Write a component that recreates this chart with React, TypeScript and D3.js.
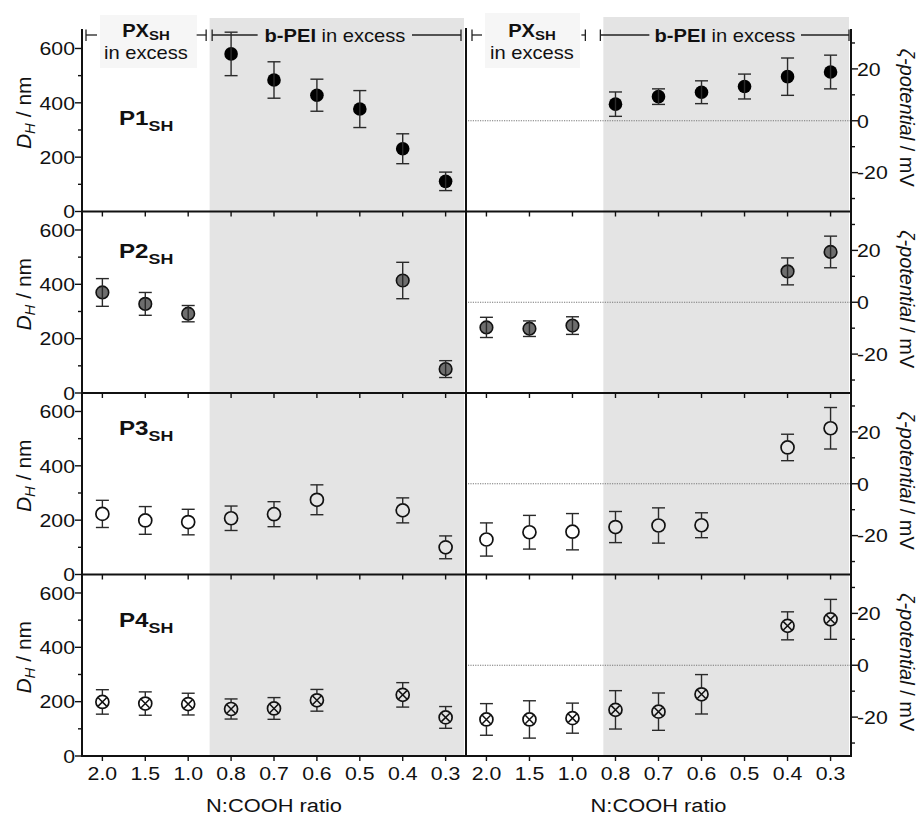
import React from "react";
import * as d3 from "d3";

// N:COOH ratios (categorical x axis, same for both panels)
const ratios = ["2.0", "1.5", "1.0", "0.8", "0.7", "0.6", "0.5", "0.4", "0.3"];

// hydrodynamic diameter D_H / nm  (null = no measurement)
const p1Size = [null, null, null, 580, 484, 428, 377, 231, 111];
const p1SizeErr = [null, null, null, 80, 67, 59, 68, 55, 34];
const p2Size = [370, 328, 292, null, null, null, null, 414, 88];
const p2SizeErr = [51, 42, 30, null, null, null, null, 67, 31];
const p3Size = [223, 199, 193, 207, 222, 275, null, 236, 100];
const p3SizeErr = [50, 51, 47, 45, 46, 55, null, 46, 42];
const p4Size = [199, 193, 191, 173, 175, 205, null, 225, 142];
const p4SizeErr = [45, 43, 40, 37, 40, 40, null, 45, 40];

// zeta potential / mV
const p1Zeta = [null, null, null, 6.4, 9.3, 11, 13.2, 17, 18.8];
const p1ZetaErr = [null, null, null, 4.7, 3, 4.4, 4.8, 7.2, 6.5];
const p2Zeta = [-9.7, -10.2, -9, null, null, null, null, 11.9, 19.4];
const p2ZetaErr = [3.9, 3, 3.4, null, null, null, null, 5.2, 6.1];
const p3Zeta = [-21.5, -18.7, -18.5, -16.7, -16.1, -16, null, 14, 21.4];
const p3ZetaErr = [6.4, 6.5, 7, 6, 6.8, 4.8, null, 5.1, 8];
const p4Zeta = [-20.9, -20.9, -20.4, -17.2, -17.9, -11.2, null, 15.2, 17.7];
const p4ZetaErr = [6.1, 7.2, 5.8, 7.4, 7.2, 7.6, null, 5.4, 7.7];

const sizeTicks = [0, 200, 400, 600];
const sizeMinor = [100, 300, 500];
const zetaTicks = [-20, 0, 20];
const zetaMinor = [-30, -10, 10, 30];

const series = [
  { name: "P1", kind: "filled", size: p1Size, sizeErr: p1SizeErr, zeta: p1Zeta, zetaErr: p1ZetaErr },
  { name: "P2", kind: "gray", size: p2Size, sizeErr: p2SizeErr, zeta: p2Zeta, zetaErr: p2ZetaErr },
  { name: "P3", kind: "open", size: p3Size, sizeErr: p3SizeErr, zeta: p3Zeta, zetaErr: p3ZetaErr },
  { name: "P4", kind: "cross", size: p4Size, sizeErr: p4SizeErr, zeta: p4Zeta, zetaErr: p4ZetaErr },
];

// layout
const W = 921, H = 816;
const PL = 82, PM = 466, PR = 851;
const TOP = 30, ROWH = 181.5;
const BOTTOM = TOP + 4 * ROWH;
const FONT = "'Liberation Sans', Arial, Helvetica, sans-serif";
const SX = 1.15; // source figure text is slightly wide
const labelDy = [95, 46, 42, 52];
const R = 6.8;
const INK = "#111";

function Txt({ x, y, anchor = "start", size = 18, weight = "normal", children }: any) {
  return (
    <g transform={`translate(${x},${y}) scale(${SX},1)`}>
      <text textAnchor={anchor} fontSize={size} fontWeight={weight} fontFamily={FONT}
        fill={INK} style={{ whiteSpace: "pre" }}>{children}</text>
    </g>
  );
}

function Point({ kind, cx, cy, yTop, yBot }: any) {
  const split = kind === "open" || kind === "cross";
  const segs = split ? [[yTop, cy - R], [cy + R, yBot]] : [[yTop, yBot]];
  const d = R * 0.62;
  return (
    <g>
      {kind === "filled" && <circle cx={cx} cy={cy} r={R} fill="#000" />}
      {kind === "gray" && <circle cx={cx} cy={cy} r={R - 0.5} fill="#6e6e6e" stroke="#111" strokeWidth={1.6} />}
      {split && <circle cx={cx} cy={cy} r={R - 0.3} fill="none" stroke="#111" strokeWidth={1.7} />}
      {kind === "cross" && (
        <path d={`M${cx - d},${cy - d}L${cx + d},${cy + d}M${cx - d},${cy + d}L${cx + d},${cy - d}`}
          stroke="#111" strokeWidth={1.5} />
      )}
      <g stroke="#2a2a2a" strokeWidth={1.4}>
        {segs.map(([a, b], i) => <line key={i} x1={cx} x2={cx} y1={a} y2={b} />)}
        <line x1={cx - 6.5} x2={cx + 6.5} y1={yTop} y2={yTop} />
        <line x1={cx - 6.5} x2={cx + 6.5} y1={yBot} y2={yBot} />
      </g>
    </g>
  );
}

function Bracket({ segs }: any) {
  // segs: [x1, x2, barAt]
  return (
    <g stroke="#222" strokeWidth={1.3}>
      {segs.map(([a, b, bar]: number[], i: number) => (
        <g key={i}>
          <line x1={a} x2={b} y1={35} y2={35} />
          <line x1={bar} x2={bar} y1={29.5} y2={41} />
        </g>
      ))}
    </g>
  );
}

export default function App() {
  const xL = d3.scalePoint<string>().domain(ratios).range([PL, PM]).padding(0.475);
  const xR = d3.scalePoint<string>().domain(ratios).range([PM, PR]).padding(0.475);
  const step = xL.step();
  const shadeL = (xL("1.0") as number) + step * 0.5;
  const shadeR = (xR("1.0") as number) + step * 0.72;

  const rows = series.map((s, i) => {
    const top = TOP + i * ROWH;
    const bot = top + ROWH;
    const yS = d3.scaleLinear().domain([0, 668]).range([bot, top]);
    const yZ = d3.scaleLinear().domain([-35, 35]).range([bot, top]);
    return { s, i, top, bot, yS, yZ };
  });

  return (
    <svg width={W} height={H} style={{ position: "absolute", left: 0, top: 0, background: "#fff" }}>
      {/* shaded b-PEI excess regions */}
      <rect x={shadeL} y={18} width={PM - 2 - shadeL} height={BOTTOM - 18} fill="#e4e4e4" />
      <rect x={shadeR} y={17} width={PR - 2 - shadeR} height={BOTTOM - 17} fill="#e4e4e4" />
      <rect x={100} y={15} width={97} height={53} fill="#f6f6f6" />
      <rect x={485} y={13} width={95} height={55} fill="#f6f6f6" />

      {/* header brackets */}
      <Bracket segs={[
        [PL + 4, PL + 15, PL + 4],
        [shadeL - 13, shadeL - 3.5, shadeL - 3.5],
        [shadeL + 2.5, shadeL + 48, shadeL + 2.5],
        [PM - 54, PM - 5, PM - 5],
      ]} />
      <Bracket segs={[
        [PM + 6, PM + 16, PM + 6],
        [shadeR - 22, shadeR - 18, shadeR - 18],
        [shadeR - 3, shadeR + 46, shadeR - 3],
        [PR - 50, PR - 2, PR - 2],
      ]} />
      {[146, 532].map((cx) => (
        <g key={cx}>
          <Txt x={cx} y={37} anchor="middle" size={17.5} weight="bold">
            PX<tspan fontSize={13} dy={2.5}>SH</tspan>
          </Txt>
          <Txt x={cx} y={59} anchor="middle" size={17.5}>in excess</Txt>
        </g>
      ))}
      {[335, 725].map((cx) => (
        <Txt key={cx} x={cx} y={42} anchor="middle" size={17.5}>
          <tspan fontWeight="bold">b-PEI</tspan> in excess
        </Txt>
      ))}

      {rows.map(({ s, i, top, bot, yS, yZ }) => (
        <g key={s.name}>
          {/* zero line */}
          <line x1={PM + 2} x2={PR - 1} y1={yZ(0)} y2={yZ(0)} stroke="#777" strokeWidth={1}
            strokeDasharray="1.2,1.2" />

          {/* row bottom axis with ticks */}
          <line x1={PL} x2={PR} y1={bot} y2={bot} stroke={INK} strokeWidth={2} />
          {ratios.map((r) => (
            <g key={r} stroke={INK} strokeWidth={1.4}>
              <line x1={xL(r)} x2={xL(r)} y1={bot} y2={bot + 5} />
              <line x1={xR(r)} x2={xR(r)} y1={bot} y2={bot + 5} />
            </g>
          ))}

          {/* left size axis */}
          {sizeTicks.map((t) => (
            <g key={t}>
              <line x1={PL - 7} x2={PL} y1={yS(t)} y2={yS(t)} stroke={INK} strokeWidth={1.4} />
              <Txt x={PL - 7} y={yS(t) + 6.8} anchor="end" size={18.5}>{t}</Txt>
            </g>
          ))}
          {sizeMinor.map((t) => (
            <line key={t} x1={PL - 4} x2={PL} y1={yS(t)} y2={yS(t)} stroke={INK} strokeWidth={1.4} />
          ))}

          {/* right zeta axis */}
          {zetaTicks.map((t) => (
            <g key={t}>
              <line x1={PR} x2={PR + 7} y1={yZ(t)} y2={yZ(t)} stroke={INK} strokeWidth={1.4} />
              <Txt x={PR + 6} y={yZ(t) + 6.8} size={18.5}>{t}</Txt>
            </g>
          ))}
          {zetaMinor.map((t) => (
            <line key={t} x1={PR} x2={PR + 4} y1={yZ(t)} y2={yZ(t)} stroke={INK} strokeWidth={1.4} />
          ))}

          {/* axis titles */}
          <text transform={`translate(31,${(top + bot) / 2 - 8}) rotate(-90)`} textAnchor="middle"
            fontSize={21} fontFamily={FONT} fill={INK} style={{ whiteSpace: "pre" }}>
            <tspan fontStyle="italic">D</tspan>
            <tspan fontStyle="italic" fontSize={15} dy={4}>H</tspan>
            <tspan dy={-4}> / nm</tspan>
          </text>
          <text transform={`translate(900,${(top + bot) / 2 - 3}) rotate(90)`} textAnchor="middle"
            fontSize={20} fontFamily={FONT} fill={INK} style={{ whiteSpace: "pre" }}>
            <tspan fontStyle="italic">ζ-potential</tspan> / mV
          </text>

          {/* sample label */}
          <Txt x={119} y={top + labelDy[i]} size={21} weight="bold">
            {s.name}<tspan fontSize={15.5} dy={6}>SH</tspan>
          </Txt>

          {/* data */}
          {ratios.map((r, j) => {
            const v = s.size[j], e = s.sizeErr[j];
            if (v == null || e == null) return null;
            return <Point key={"s" + r} kind={s.kind} cx={xL(r)} cy={yS(v)} yTop={yS(v + e)} yBot={yS(v - e)} />;
          })}
          {ratios.map((r, j) => {
            const v = s.zeta[j], e = s.zetaErr[j];
            if (v == null || e == null) return null;
            return <Point key={"z" + r} kind={s.kind} cx={xR(r)} cy={yZ(v)} yTop={yZ(v + e)} yBot={yZ(v - e)} />;
          })}
        </g>
      ))}

      {/* frame lines */}
      <line x1={PL} x2={PL} y1={29} y2={BOTTOM + 1} stroke={INK} strokeWidth={2} />
      <line x1={PM} x2={PM} y1={28} y2={BOTTOM + 1} stroke={INK} strokeWidth={2} />
      <line x1={PR} x2={PR} y1={29} y2={BOTTOM + 1} stroke={INK} strokeWidth={2} />

      {/* bottom tick labels and titles */}
      {ratios.map((r) => (
        <g key={r}>
          <Txt x={xL(r)} y={780} anchor="middle" size={18.5}>{r}</Txt>
          <Txt x={xR(r)} y={780} anchor="middle" size={18.5}>{r}</Txt>
        </g>
      ))}
      <Txt x={(PL + PM) / 2} y={812} anchor="middle" size={19}>N:COOH ratio</Txt>
      <Txt x={(PM + PR) / 2} y={812} anchor="middle" size={19}>N:COOH ratio</Txt>
    </svg>
  );
}
